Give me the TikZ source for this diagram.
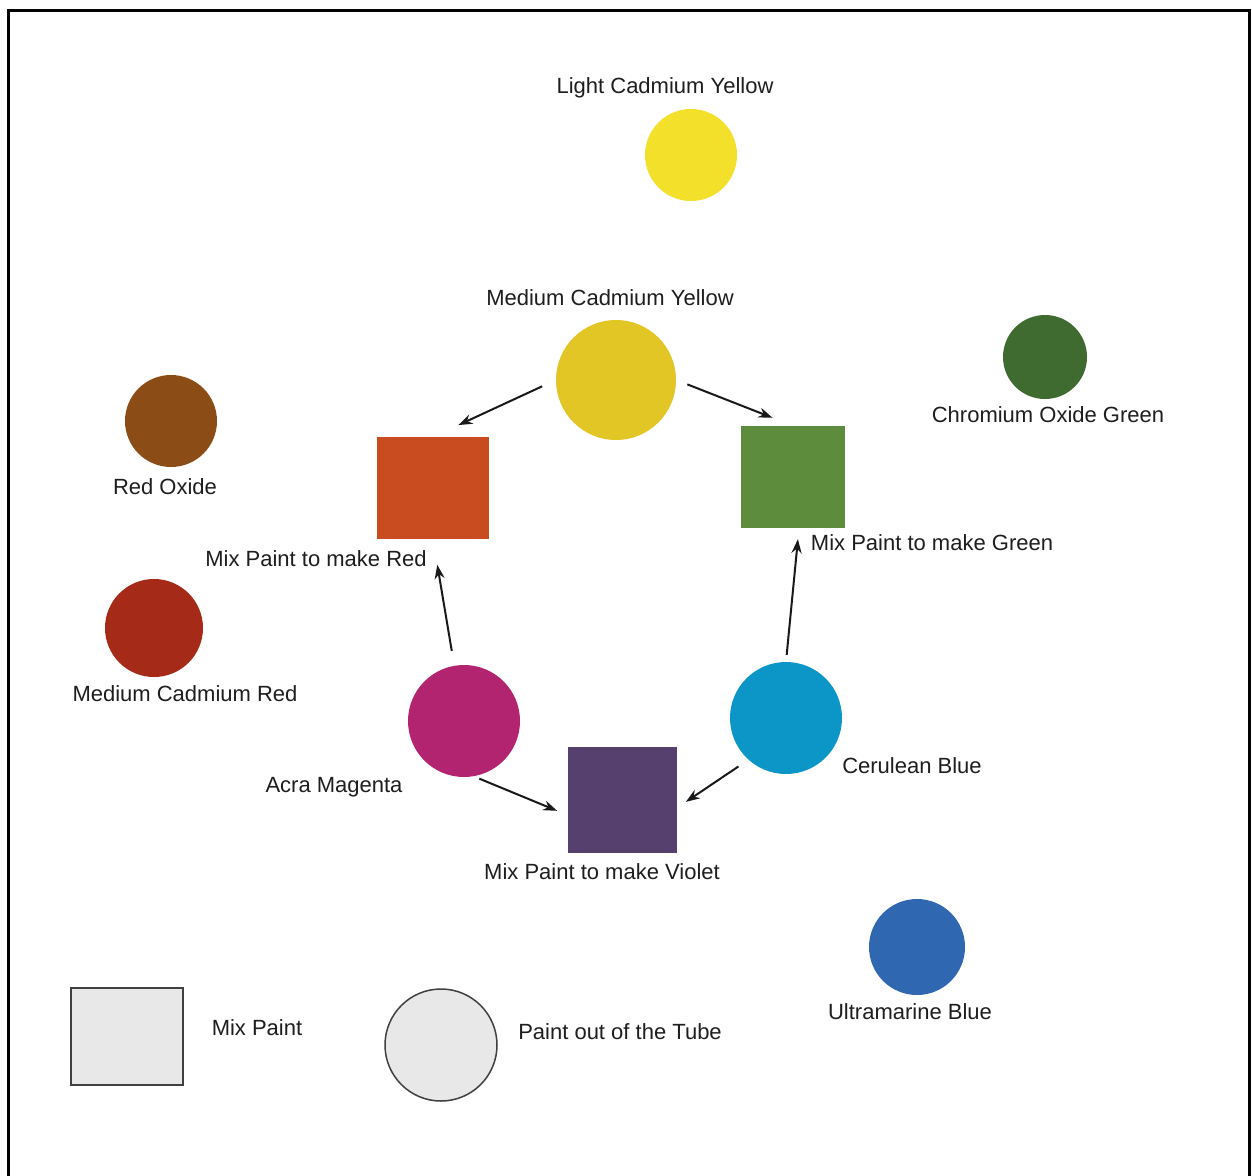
\documentclass[tikz,border=0pt]{standalone}
\usepackage{fontspec}
\setmainfont{Liberation Sans}
\usetikzlibrary{arrows.meta}
\definecolor{lcy}{RGB}{242,224,42}
\definecolor{mcy}{RGB}{226,198,38}
\definecolor{cog}{RGB}{63,107,48}
\definecolor{rox}{RGB}{140,76,22}
\definecolor{mred}{RGB}{200,76,32}
\definecolor{mgreen}{RGB}{92,140,60}
\definecolor{mcr}{RGB}{165,42,24}
\definecolor{mag}{RGB}{178,36,112}
\definecolor{cer}{RGB}{12,150,200}
\definecolor{vio}{RGB}{86,64,110}
\definecolor{ulb}{RGB}{47,103,176}
\definecolor{leg}{RGB}{232,232,232}
\definecolor{txt}{RGB}{30,30,30}
\tikzset{
  paint/.style={circle, inner sep=0pt, minimum size=#1},
  mixbox/.style={rectangle, inner sep=0pt},
  lbl/.style={text=txt, font=\fontsize{22}{26}\selectfont, inner sep=0pt},
  conn/.style={-{Stealth[length=14pt,width=10pt]}, line width=2pt, draw=black!90}
}
\begin{document}
\begin{tikzpicture}[x=1pt,y=-1pt]
\useasboundingbox (0,0) rectangle (1252,1175);
\fill[white] (0,0) rectangle (1252,1175);
\draw[line width=3pt] (8.8,1176) -- (8.8,10.5) -- (1249.5,10.5) -- (1249.5,1176);

% paints out of the tube
\node[paint=92pt, fill=lcy] (lcyc) at (691,155) {};
\node[lbl] (lcyl) at (665,88) {Light Cadmium Yellow};
\node[paint=120pt, fill=mcy] (mcyc) at (616,380) {};
\node[lbl] (mcyl) at (610,298) {Medium Cadmium Yellow};
\node[paint=84pt, fill=cog] (cogc) at (1045,357) {};
\node[lbl] (cogl) at (1048,415) {Chromium Oxide Green};
\node[paint=92pt, fill=rox] (roxc) at (171,421) {};
\node[lbl] (roxl) at (165,487) {Red Oxide};
\node[paint=98pt, fill=mcr] (mcrc) at (154,628) {};
\node[lbl] (mcrl) at (185,694) {Medium Cadmium Red};
\node[paint=112pt, fill=mag] (magc) at (464,721) {};
\node[lbl] (magl) at (334,787) {Acra Magenta};
\node[paint=112pt, fill=cer] (cerc) at (786,718) {};
\node[lbl] (cerl) at (912,766) {Cerulean Blue};
\node[paint=96pt, fill=ulb] (ulbc) at (917,947) {};
\node[lbl] (ulbl) at (910,1012) {Ultramarine Blue};

% mixed paints
\node[mixbox, fill=mred, minimum width=112pt, minimum height=102pt] (redb) at (433,488) {};
\node[lbl] (redl) at (316,559) {Mix Paint to make Red};
\node[mixbox, fill=mgreen, minimum width=104pt, minimum height=102pt] (greenb) at (793,477) {};
\node[lbl] (greenl) at (932,543) {Mix Paint to make Green};
\node[mixbox, fill=vio, minimum width=109pt, minimum height=106pt] (violb) at (622,800) {};
\node[lbl] (violl) at (602,872) {Mix Paint to make Violet};

% connectors
\draw[conn, shorten <=15pt, shorten >=28pt] (mcyc.180) -- (redb.north);
\draw[conn, shorten <=12pt, shorten >=22pt] (mcyc.east) -- (greenb.north);
\draw[conn, shorten <=15pt, shorten >=26pt] (magc.100) -- (redb.south);
\draw[conn, shorten <=7pt, shorten >=11pt] (cerc.north) -- ([xshift=6pt]greenb.south);
\draw[conn, shorten <=6pt, shorten >=11pt] (magc.-80) -- ([yshift=-15pt]violb.west);
\draw[conn, shorten <=12pt, shorten >=11pt] (cerc.228) -- ([yshift=-8pt]violb.east);

% legend
\node[mixbox, fill=leg, draw=black!75, line width=1.5pt, minimum width=112pt, minimum height=97pt] (legbox) at (127,1036.5) {};
\node[lbl] (legboxl) at (257,1028) {Mix Paint};
\node[paint=112pt, fill=leg, draw=black!75, line width=1.5pt] (legcirc) at (441,1045) {};
\node[lbl] (legcircl) at (620,1032) {Paint out of the Tube};
\end{tikzpicture}
\end{document}
